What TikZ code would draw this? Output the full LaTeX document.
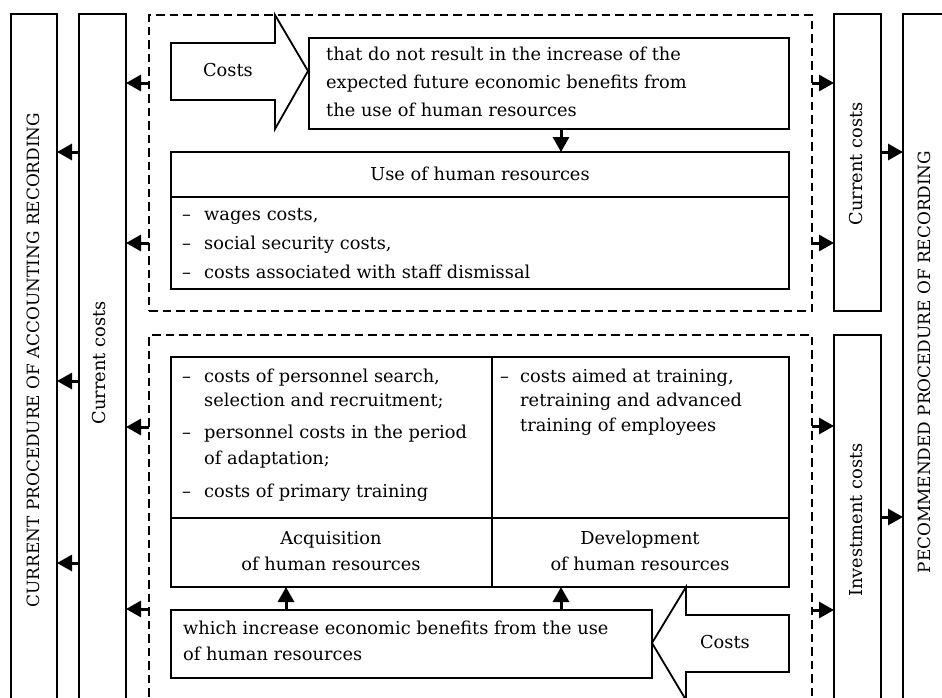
\documentclass[tikz,border=0pt]{standalone}
\usepackage{fontspec}
\setmainfont{DejaVu Serif}
\usetikzlibrary{arrows.meta}
\tikzset{
  box/.style={draw, line width=2.3pt, inner sep=0pt, outer sep=0pt, anchor=north west},
  dbox/.style={draw, line width=2.8pt, dash pattern=on 8.5pt off 5pt},
  arr/.style={line width=3pt, -{Triangle[length=15pt,width=16pt]}},
  tx/.style={inner sep=0pt, text height=12.5pt, text depth=4pt, font=\fontsize{17.8pt}{21pt}\selectfont},
  rt/.style={tx, rotate=90},
  rtc/.style={tx, rotate=90, font=\fontsize{16.9pt}{20pt}\selectfont},
  bigarrow/.style={draw, line width=1.8pt, fill=white, line join=miter},
}
\begin{document}
\begin{tikzpicture}[x=1pt,y=-1pt]
\useasboundingbox (0,0) rectangle (942,697);
\clip (0,0) rectangle (942,697);
\fill[white] (0,0) rectangle (942,697);

% side boxes
\node[box, minimum width=46pt, minimum height=720pt] (outL) at (11,14) {};
\node[box, minimum width=47pt, minimum height=720pt] (ccL) at (79,14) {};
\node[box, minimum width=47pt, minimum height=297pt] (ccR) at (834,14) {};
\node[box, minimum width=47pt, minimum height=400pt] (invR) at (834,335) {};
\node[box, minimum width=60pt, minimum height=720pt] (outR) at (903,14) {};

\node[rtc] (tOutL) at (35,360) {CURRENT PROCEDURE OF ACCOUNTING RECORDING};
\node[rt] (tccL) at (101,363) {Current costs};
\node[rt] (tccR) at (858,164) {Current costs};
\node[rt] (tinvR) at (858,520) {Investment costs};
\node[rtc] (tOutR) at (926,362) {PECOMMENDED PROCEDURE OF RECORDING};

% dashed groups
\node[dbox, inner sep=0pt, outer sep=0pt, anchor=north west, minimum width=663pt, minimum height=296pt] (g1) at (149,15) {};
\node[dbox, inner sep=0pt, outer sep=0pt, anchor=north west, minimum width=663pt, minimum height=400pt] (g2) at (149,335) {};

% top big arrow
\draw[bigarrow] (171,43) -- (275,43) -- (275,15) -- (308,71) coordinate (catip) -- (275,129) -- (275,100) -- (171,100) -- cycle;
\node[tx] (costs1) at (228,72) {Costs};

% text box 1
\node[box, minimum width=480pt, minimum height=91pt] (tb1) at (309,38) {};
\node[tx, anchor=west] (l11) at (326,56) {that do not result in the increase of the};
\node[tx, anchor=west] (l12) at (326,84) {expected future economic benefits from};
\node[tx, anchor=west] (l13) at (326,112) {the use of human resources};

% use box
\node[box, minimum width=618pt, minimum height=45pt] (useh) at (171,152) {};
\node[box, minimum width=618pt, minimum height=92pt] (useb) at (171,197) {};
\node[tx] (uset) at (480,176) {Use of human resources};
\node[tx, anchor=west] (ud1) at (182,216) {--};
\node[tx, anchor=west] (u1) at (204,216) {wages costs,};
\node[tx, anchor=west] (ud2) at (182,245) {--};
\node[tx, anchor=west] (u2) at (204,245) {social security costs,};
\node[tx, anchor=west] (ud3) at (182,274) {--};
\node[tx, anchor=west] (u3) at (204,274) {costs associated with staff dismissal};

% grid
\node[box, minimum width=321pt, minimum height=161pt] (aqI) at (171,357) {};
\node[box, minimum width=297pt, minimum height=161pt] (dvI) at (492,357) {};
\node[box, minimum width=321pt, minimum height=69pt] (aqH) at (171,518) {};
\node[box, minimum width=297pt, minimum height=69pt] (dvH) at (492,518) {};

\node[tx, anchor=west] (ad1) at (182,378) {--};
\node[tx, anchor=west] (a11) at (204,378) {costs of personnel search,};
\node[tx, anchor=west] (a12) at (204,402) {selection and recruitment;};
\node[tx, anchor=west] (ad2) at (182,434) {--};
\node[tx, anchor=west] (a21) at (204,434) {personnel costs in the period};
\node[tx, anchor=west] (a22) at (204,460) {of adaptation;};
\node[tx, anchor=west] (ad3) at (182,493) {--};
\node[tx, anchor=west] (a31) at (204,493) {costs of primary training};

\node[tx, anchor=west] (dd1) at (500,378) {--};
\node[tx, anchor=west] (d11) at (520,378) {costs aimed at training,};
\node[tx, anchor=west] (d12) at (520,402) {retraining and advanced};
\node[tx, anchor=west] (d13) at (520,427) {training of employees};

\node[tx] (aqh1) at (331,540) {Acquisition};
\node[tx] (aqh2) at (331,566) {of human resources};
\node[tx] (dvh1) at (640,540) {Development};
\node[tx] (dvh2) at (640,566) {of human resources};

% bottom box
\node[box, minimum width=481pt, minimum height=68pt] (bb) at (171,610) {};
\node[tx, anchor=west] (b1) at (183,630) {which increase economic benefits from the use};
\node[tx, anchor=west] (b2) at (183,656) {of human resources};

% bottom big arrow
\draw[bigarrow] (789,615) -- (686,615) -- (686,587) -- (652,643) coordinate (cbtip) -- (686,700) -- (686,672) -- (789,672) -- cycle;
\node[tx] (costs2) at (725,644) {Costs};

% arrows inside
\draw[arr] (tb1.south -| 561,0) -- (useh.north -| 561,0);
\draw[arr] (bb.north -| 286,0) -- (aqH.south -| 286,0);
\draw[arr] (bb.north -| 561,0) -- (dvH.south -| 561,0);

% left arrows
\foreach \yy in {83,243,427,609} \draw[arr] (g1.west |- 0,\yy) -- (ccL.east |- 0,\yy);
\foreach \yy in {152,381,563} \draw[arr] (ccL.west |- 0,\yy) -- (outL.east |- 0,\yy);
% right arrows
\foreach \yy in {83,243} \draw[arr] (g1.east |- 0,\yy) -- (ccR.west |- 0,\yy);
\foreach \yy in {426,610} \draw[arr] (g2.east |- 0,\yy) -- (invR.west |- 0,\yy);
\draw[arr] (ccR.east |- 0,152) -- (outR.west |- 0,152);
\draw[arr] (invR.east |- 0,517) -- (outR.west |- 0,517);
\end{tikzpicture}
\end{document}
